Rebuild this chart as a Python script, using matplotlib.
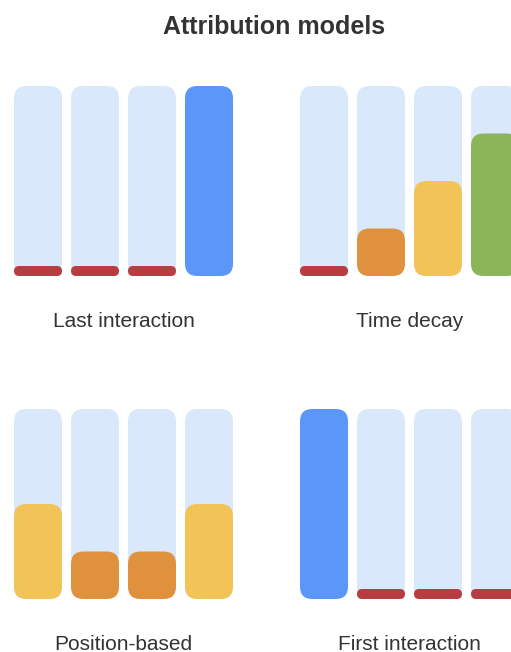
import matplotlib.pyplot as plt
from matplotlib.patches import FancyBboxPatch

# attribution share (%) for each of four touchpoints, per model
models = ["Last interaction", "Time decay", "Position-based", "First interaction"]
last_interaction = [0, 0, 0, 100]
time_decay = [0, 25, 50, 75]
position_based = [50, 25, 25, 50]
first_interaction = [100, 0, 0, 0]
values = [last_interaction, time_decay, position_based, first_interaction]

# colour of a bar by its share
level_colors = {0: "#B83D40", 25: "#E0913D", 50: "#F2C357", 75: "#8BB559", 100: "#5B97F8"}
track_color = "#DAE8FC"
text_color = "#333333"

W, H = 511, 652
fig = plt.figure(figsize=(W / 100, H / 100), dpi=100)

panel_h = 190              # px for 100 %
u = 100 / panel_h          # data units per px (same on both axes)
slot = 57 * u              # bar spacing in data units
bar_w = 48 * u
stub = 10 * u              # drawn height for a zero share
lefts = [9.5, 295.5, 9.5, 295.5]
bottoms = [276, 276, 599, 599]


def rounded_bar(ax, x, h, color, r_px):
    ax.add_patch(FancyBboxPatch((x - bar_w / 2, 0), bar_w, h,
                                boxstyle=f"round,pad=0,rounding_size={r_px * u}",
                                fc=color, ec="none"))


for name, vals, left, bottom in zip(models, values, lefts, bottoms):
    ax = fig.add_axes([left / W, 1 - bottom / H, 228 / W, panel_h / H])
    ax.set_xlim(-0.5 * slot, 3.5 * slot)
    ax.set_ylim(0, 100)
    ax.axis("off")
    for i, v in enumerate(vals):
        x = i * slot
        rounded_bar(ax, x, 100, track_color, 12.5)
        if v == 0:
            rounded_bar(ax, x, stub, level_colors[0], 5)
        else:
            rounded_bar(ax, x, v, level_colors[v], 12.5)
    ax.text(0.5, -0.27, name, transform=ax.transAxes, ha="center", va="baseline",
            fontsize=15, color=text_color, family="Liberation Sans")

fig.text(274 / W, 1 - 34 / H, "Attribution models", ha="center", va="baseline",
         fontsize=18, fontweight="bold", color=text_color, family="Liberation Sans")

fig.savefig("out.png", dpi=100)
